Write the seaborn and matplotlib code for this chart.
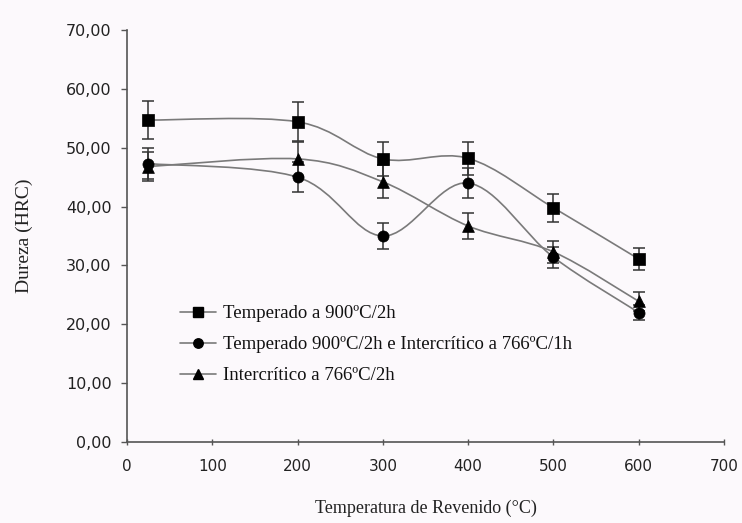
import numpy as np
import pandas as pd
import seaborn as sns
import matplotlib
matplotlib.use("Agg")
import matplotlib.pyplot as plt
from matplotlib.path import Path
from matplotlib.patches import PathPatch
from matplotlib.lines import Line2D

# Tempering temperature (°C) and hardness (HRC) for each heat treatment
temperatura = [25, 200, 300, 400, 500, 600]
series_names = [
    "Temperado a 900ºC/2h",
    "Temperado 900ºC/2h e Intercrítico a 766ºC/1h",
    "Intercrítico a 766ºC/2h",
]
dureza_temperado = [54.7, 54.4, 48.1, 48.2, 39.8, 31.1]
erro_temperado = [3.3, 3.3, 2.9, 2.8, 2.4, 1.9]
dureza_temp_inter = [47.3, 45.0, 35.0, 44.0, 31.4, 22.0]
erro_temp_inter = [2.7, 2.6, 2.2, 2.6, 1.8, 1.3]
dureza_intercritico = [46.8, 48.1, 44.2, 36.7, 32.3, 23.9]
erro_intercritico = [2.5, 2.9, 2.8, 2.2, 1.9, 1.6]

markers = ["s", "o", "^"]
marker_sizes = [9, 8, 8.5]

y_ticks = np.arange(0, 71, 10)
x_ticks = np.arange(0, 701, 100)

sns.set_theme(style="white")
plt.rcParams["font.family"] = ["Liberation Serif", "DejaVu Serif"]

bg = "#fcf9fc"
fig = plt.figure(figsize=(7.42, 5.23), dpi=100, facecolor=bg)
ax = fig.add_axes([127 / 742, 1 - 442 / 523, (724 - 127) / 742, (442 - 30) / 523])
ax.set_facecolor(bg)

rows = []
for name, vals in zip(series_names, [dureza_temperado, dureza_temp_inter, dureza_intercritico]):
    for t, v in zip(temperatura, vals):
        rows.append({"Temperatura": t, "Dureza": v, "Serie": name})
df = pd.DataFrame(rows)


def smooth_path(xs, ys):
    """Cubic Bezier path through the points (Catmull-Rom style smoothing)."""
    pts = np.column_stack([xs, ys]).astype(float)
    verts = [tuple(pts[0])]
    codes = [Path.MOVETO]
    n = len(pts)
    for i in range(n - 1):
        p0 = pts[i - 1] if i > 0 else pts[i]
        p1 = pts[i]
        p2 = pts[i + 1]
        p3 = pts[i + 2] if i + 2 < n else pts[i + 1]
        c1 = p1 + (p2 - p0) / 6.0
        c2 = p2 - (p3 - p1) / 6.0
        verts += [tuple(c1), tuple(c2), tuple(p2)]
        codes += [Path.CURVE4] * 3
    return Path(verts, codes)


line_color = "#7a7a7a"
all_vals = [dureza_temperado, dureza_temp_inter, dureza_intercritico]
all_err = [erro_temperado, erro_temp_inter, erro_intercritico]
for vals, err in zip(all_vals, all_err):
    ax.add_patch(PathPatch(smooth_path(temperatura, vals), facecolor="none",
                           edgecolor=line_color, lw=1.2, zorder=2))
    ax.errorbar(temperatura, vals, yerr=err, fmt="none", ecolor="#333333",
                elinewidth=1.1, capsize=4.5, capthick=1.1, zorder=3)

for name, m, ms in zip(series_names, markers, marker_sizes):
    sub = df[df["Serie"] == name]
    sns.scatterplot(data=sub, x="Temperatura", y="Dureza", marker=m,
                    s=ms ** 2, color="black", edgecolor="black", linewidth=0.5,
                    ax=ax, zorder=4, legend=False)

ax.set_xlim(0, 700)
ax.set_ylim(0, 70)
ax.set_xticks(x_ticks)
ax.set_yticks(y_ticks)
ax.set_xticklabels([str(v) for v in x_ticks])
ax.set_yticklabels([f"{v:.2f}".replace(".", ",") for v in y_ticks])
for lab in ax.get_xticklabels():
    lab.set_fontfamily("DejaVu Sans")
    lab.set_fontsize(11)
    lab.set_color("#222222")
for lab in ax.get_yticklabels():
    lab.set_fontfamily("DejaVu Sans")
    lab.set_fontsize(11.5)
    lab.set_color("#222222")

ax.tick_params(axis="y", direction="out", length=4, width=1, color="#555555", pad=7, left=True)
ax.tick_params(axis="x", direction="inout", length=5, width=1, color="#555555", pad=10, bottom=True)

for side in ["top", "right"]:
    ax.spines[side].set_visible(False)
for side in ["left", "bottom"]:
    ax.spines[side].set_color("#555555")
    ax.spines[side].set_linewidth(1.2)

ax.set_xlabel("Temperatura de Revenido (°C)", fontsize=13, color="#222222", labelpad=18)
ax.set_ylabel("Dureza (HRC)", fontsize=14, color="#222222", labelpad=24)

handles = [
    Line2D([0], [0], color=line_color, lw=1.2, marker=m, markersize=ms * 0.85,
           markerfacecolor="black", markeredgecolor="black")
    for m, ms in zip(markers, marker_sizes)
]
fig.legend(handles, series_names, loc="upper left",
           bbox_to_anchor=(180 / 742, 1 - 305 / 523), frameon=False,
           fontsize=13.5, handlelength=1.9, handletextpad=0.4,
           labelspacing=0.75, borderpad=0, borderaxespad=0,
           labelcolor="#111111")

fig.savefig("out.png", dpi=100, facecolor=bg)
